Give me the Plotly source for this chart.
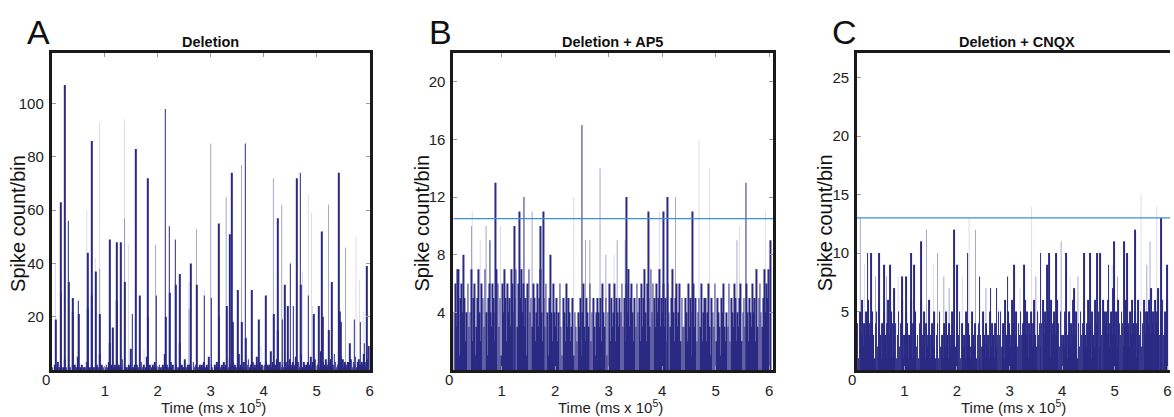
import numpy as np
import plotly.graph_objects as go

BIN = 0.02  # bin width, ms x 10^5

# ---------------- Panel A: Deletion ----------------
a_base = [
    1,0,2,1,1,3,0,1,2,1,0,1,4,1,0,2,1,1,0,2,
    1,2,0,1,5,1,0,1,2,0,1,1,3,1,2,1,0,2,1,1,
    0,1,2,1,0,6,1,2,1,0,1,2,1,3,1,0,2,1,1,2,
    1,0,1,2,1,1,4,0,2,1,1,0,2,1,8,1,0,1,2,1,
    2,1,0,1,3,1,2,0,1,5,1,1,2,0,1,2,1,3,1,0,
    1,2,1,0,2,1,6,1,2,1,0,1,3,1,2,0,1,2,1,1,
    0,1,2,1,1,4,1,0,2,1,2,1,0,3,1,2,1,1,0,2,
    1,2,1,3,0,1,2,1,5,1,2,1,0,2,1,3,1,2,1,0,
    2,1,3,1,2,0,1,4,2,1,3,1,2,1,0,2,6,1,2,1,
    1,3,2,1,2,4,1,2,0,3,1,2,1,5,2,1,3,1,2,1,
    2,1,3,2,1,2,7,1,3,2,1,2,4,1,2,3,1,2,1,3,
    3,1,2,1,4,2,1,3,2,1,5,2,3,1,2,6,1,3,2,1,
    2,3,1,2,5,1,3,2,4,1,2,3,1,7,2,3,1,2,4,2,
    1,3,2,4,1,2,6,3,1,2,3,1,5,2,4,1,3,2,1,3,
    3,2,4,1,3,2,5,1,3,4,2,1,3,2,6,3,1,2,4,9,
]
a_peak_t = [0.075,0.175,0.18,0.25,0.31,0.32,0.39,0.40,0.50,0.505,0.675,0.68,0.75,0.755,0.825,
            0.90,1.09,1.10,1.15,1.225,1.23,1.30,1.38,1.52,1.58,1.66,1.81,1.82,1.97,2.14,2.15,
            2.22,2.23,2.33,2.34,2.41,2.42,2.62,2.74,2.88,3.01,3.15,3.16,3.30,3.36,3.40,3.41,
            3.51,3.59,3.65,3.66,3.78,3.91,4.04,4.19,4.26,4.27,4.35,4.40,4.45,4.50,4.56,4.63,
            4.69,4.70,4.84,4.94,5.04,5.10,5.11,5.23,5.29,5.42,5.43,5.46,5.63,5.71,5.82,5.90,5.94]
a_peak_n = [19,63,29,107,56,33,27,22,26,21,44,23,86,28,37,
            21,49,10,16,48,26,48,33,21,83,28,72,20,28,98,20,
            54,29,49,32,36,10,40,32,28,27,55,20,24,51,74,18,
            30,18,85,12,30,19,28,21,57,15,19,32,24,40,24,72,
            74,32,28,21,24,52,20,15,33,74,22,18,10,19,18,10,39]
a_mid_t = [0.905,1.375,1.96,2.73,3.00,3.29,3.58,4.18,4.34,5.22,5.54,2.59]
a_mid_n = [38,57,47,53,85,65,77,72,62,62,46,23]
a_faint_t = [0.07,0.66,0.82,0.90,1.37,1.45,1.74,2.585,2.875,4.73,4.84,4.90,5.74,5.81,5.89,4.92,3.95]
a_faint_n = [40,60,42,93,94,47,8,33,30,37,66,59,50,34,22,24,9]

# ---------------- Panel B: Deletion + AP5 ----------------
b_base = [
    5,3,6,2,5,4,6,3,4,7,1,5,6,4,3,5,2,4,6,3,
    4,7,2,5,6,1,3,5,7,4,2,6,5,3,7,4,1,5,6,4,
    3,6,5,2,4,7,6,3,5,1,6,4,7,5,2,6,4,5,3,7,
    6,4,5,7,3,6,2,5,7,4,6,3,5,1,6,7,4,5,3,6,
    5,2,4,6,3,5,7,4,2,5,3,6,4,1,5,3,4,2,6,4,
    3,5,2,4,6,3,1,5,4,2,6,3,5,4,2,3,5,1,4,3,
    2,4,3,5,1,4,6,3,2,5,4,3,6,2,4,5,3,1,4,5,
    4,3,5,2,6,4,3,5,1,4,6,2,5,3,4,6,2,5,4,3,
    5,4,6,3,5,2,6,4,7,3,5,6,4,2,5,3,6,4,5,2,
    6,3,5,7,4,2,6,5,3,7,4,6,5,3,6,4,5,7,3,5,
    4,6,3,5,2,6,4,3,5,7,4,2,5,6,3,4,6,2,5,3,
    3,5,4,2,6,3,5,1,4,6,3,5,2,4,5,3,6,2,4,5,
    5,2,4,6,3,1,5,4,3,6,2,5,4,3,1,5,4,6,3,2,
    4,3,6,2,5,4,3,6,5,2,4,3,5,6,2,4,5,3,6,4,
    2,5,4,3,6,4,5,2,7,3,5,6,4,3,5,7,4,6,5,7,
]
b_peak_t = [0.88,1.33,1.42,1.78,1.91,2.50,3.33,3.74,4.02,4.10,4.57,5.57,6.03,0.78,1.72,1.24,0.29,0.17]
b_peak_n = [13,11,12,11,8,17,12,11,11,12,11,13,9,9,10,10,8,7]
b_mid_t = [0.44,2.84,4.25,1.57,0.71,2.57,2.65,3.16,3.31,2.95,5.40]
b_mid_n = [10,14,12,11,10,9,9,9,9,8,9]
b_faint_t = [0.45,0.98,2.35,3.95,4.69,4.89,5.93,5.45,3.10,0.60]
b_faint_n = [11,10,12,11,16,14,11,10,8,9]

# ---------------- Panel C: Deletion + CNQX ----------------
c_base = [
    4,3,5,2,7,4,1,5,3,6,2,4,3,5,1,6,3,4,2,5,
    3,1,4,5,2,6,3,1,4,2,5,3,1,4,6,2,3,5,1,4,
    2,4,1,3,5,2,4,6,1,3,2,5,4,1,3,2,6,1,4,3,
    5,2,3,1,4,6,2,3,5,1,4,2,3,6,1,3,4,2,5,1,
    3,4,1,5,2,3,1,4,2,5,3,1,4,2,3,5,1,3,2,4,
    2,3,5,1,4,2,3,1,5,2,4,3,1,2,5,3,2,4,1,3,
    4,1,3,2,5,3,1,4,2,3,1,5,2,4,3,1,4,2,3,5,
    3,5,2,4,1,6,3,2,5,4,2,3,6,1,4,3,5,2,4,3,
    5,3,4,2,6,3,5,1,4,3,5,2,4,6,3,2,5,3,4,2,
    4,6,3,5,2,4,3,5,1,6,3,4,5,2,3,6,4,2,5,3,
    3,2,5,4,1,3,5,2,4,3,6,2,3,5,1,4,2,5,3,4,
    5,3,2,4,6,3,4,1,5,3,2,6,4,3,5,2,4,3,6,5,
    4,5,3,6,2,4,5,3,7,4,3,5,2,6,4,3,5,4,2,6,
    3,6,4,2,5,3,6,4,3,5,1,4,6,3,5,2,4,6,3,5,
    5,4,6,3,7,4,5,3,6,4,5,7,3,5,4,6,3,5,4,6,
]
c_peak_t = [0.30,0.37,0.52,0.61,0.73,0.81,0.95,1.03,1.13,1.19,1.32,1.95,2.00,2.20,2.43,
            3.59,3.71,3.75,3.88,4.08,4.42,4.53,4.66,4.72,4.88,4.99,5.18,5.24,5.39,5.88,
            6.00,2.64,2.75,2.96,3.08,3.28,4.22]
c_peak_n = [10,10,10,9,9,7,8,8,10,9,11,12,9,10,8,
            10,9,10,10,10,10,10,10,10,9,11,11,10,12,13,
            9,7,7,8,9,9,7]
c_mid_t = [1.42,0.16,1.63,1.75,2.35,3.98,5.61,5.67,0.45,0.66,1.85,2.55,3.50,4.30,5.05]
c_mid_n = [12,13,10,8,12,11,9,11,8,8,7,7,8,8,8]
c_faint_t = [2.23,3.42,5.50,5.80,0.24,1.55,0.88,2.10,3.20,4.15,4.95]
c_faint_n = [13,14,15,14,9,9,8,8,7,8,9]

AP5_THRESHOLD = 10.5
CNQX_THRESHOLD = 13.0

# ---------------- figure ----------------
W, H = 1174, 417
NAVY = "rgb(42,42,132)"
MID = "rgba(42,42,132,0.55)"
FAINT = "rgba(42,42,132,0.22)"
FONT = "Liberation Sans, Arial, sans-serif"

fig = go.Figure()

panels = [
    dict(base=a_base, pt=a_peak_t, pn=a_peak_n, mt=a_mid_t, mn=a_mid_n, ft=a_faint_t, fn=a_faint_n,
         xa="x", ya="y", thr=None),
    dict(base=b_base, pt=b_peak_t, pn=b_peak_n, mt=b_mid_t, mn=b_mid_n, ft=b_faint_t, fn=b_faint_n,
         xa="x2", ya="y2", thr=AP5_THRESHOLD),
    dict(base=c_base, pt=c_peak_t, pn=c_peak_n, mt=c_mid_t, mn=c_mid_n, ft=c_faint_t, fn=c_faint_n,
         xa="x3", ya="y3", thr=CNQX_THRESHOLD),
]

for p in panels:
    n = len(p["base"])
    centers = (np.arange(n) + 0.5) * BIN
    fig.add_trace(go.Bar(x=centers, y=p["base"], width=BIN * 0.75, marker=dict(color=NAVY, line_width=0),
                         xaxis=p["xa"], yaxis=p["ya"], showlegend=False))
    fig.add_trace(go.Bar(x=p["ft"], y=p["fn"], width=BIN * 0.7, marker=dict(color=FAINT, line_width=0),
                         xaxis=p["xa"], yaxis=p["ya"], showlegend=False))
    fig.add_trace(go.Bar(x=p["mt"], y=p["mn"], width=BIN * 0.7, marker=dict(color=MID, line_width=0),
                         xaxis=p["xa"], yaxis=p["ya"], showlegend=False))
    fig.add_trace(go.Bar(x=p["pt"], y=p["pn"], width=BIN * 0.7, marker=dict(color=NAVY, line_width=0),
                         xaxis=p["xa"], yaxis=p["ya"], showlegend=False))
    if p["thr"] is not None:
        fig.add_trace(go.Scatter(x=[0, 6.2], y=[p["thr"], p["thr"]], mode="lines",
                                 line=dict(color="#3d8fd6", width=1.2),
                                 xaxis=p["xa"], yaxis=p["ya"], showlegend=False, cliponaxis=True))

def px_x(v):
    return v / W

def px_y(v):
    return 1 - v / H

y_dom = [px_y(370), px_y(53)]
x_doms = [[px_x(52), px_x(371)], [px_x(455), px_x(776)], [px_x(860), 1.0]]
x_ranges = [[0, 6], [0.1, 6.08], [0.1, 6.05]]
y_ranges = [[0, 119], [0, 22], [0, 27.1]]
y_ticks = [[20, 40, 60, 80, 100], [4, 8, 12, 16, 20], [5, 10, 15, 20, 25]]

axis_common = dict(showgrid=False, zeroline=False, ticks="inside", ticklen=4, tickcolor="#999",
                   tickwidth=1, linecolor="#1a1a1a", linewidth=3, showline=True,
                   tickfont=dict(family=FONT, size=15, color="#222"))

layout = dict(width=W, height=H, margin=dict(l=0, r=0, t=0, b=0), plot_bgcolor="white",
              paper_bgcolor="white", barmode="overlay", bargap=0.01)

for i in range(3):
    sx = "" if i == 0 else str(i + 1)
    layout["xaxis" + sx] = dict(axis_common, domain=x_doms[i], range=x_ranges[i], anchor="y" + sx,
                                tickvals=[1, 2, 3, 4, 5, 6], mirror="allticks" if i < 2 else True,
                                ticklabelstandoff=5)
    layout["yaxis" + sx] = dict(axis_common, domain=y_dom, range=y_ranges[i], anchor="x" + sx,
                                tickvals=y_ticks[i], mirror="allticks" if i < 2 else False,
                                ticklabelstandoff=2)

fig.update_layout(**layout)

titles = ["Deletion", "Deletion + AP5", "Deletion + CNQX"]
title_x = [211, 615, 1020]
letters = ["A", "B", "C"]
letter_x = [39, 442, 847]
ylab_x = [18, 423, 828]
xlab_x = [214, 613, 1017]
zero_x = [46, 451, 855]

ann = []
for i in range(3):
    ann.append(dict(text="<b>" + titles[i] + "</b>", x=px_x(title_x[i]), y=px_y(42), xref="paper", yref="paper",
                    showarrow=False, font=dict(family=FONT, size=14.5, color="#111"),
                    xanchor="center", yanchor="middle"))
    ann.append(dict(text=letters[i], x=px_x(letter_x[i]), y=px_y(32), xref="paper", yref="paper",
                    showarrow=False, font=dict(family=FONT, size=34, color="#111"),
                    xanchor="center", yanchor="middle"))
    ann.append(dict(text="Spike count/bin", x=px_x(ylab_x[i]), y=px_y(223), xref="paper", yref="paper",
                    showarrow=False, textangle=-90, font=dict(family=FONT, size=20, color="#111"),
                    xanchor="center", yanchor="middle"))
    ann.append(dict(text="Time (ms x 10<sup>5</sup>)", x=px_x(xlab_x[i]), y=px_y(406), xref="paper",
                    yref="paper", showarrow=False, font=dict(family=FONT, size=15, color="#222"),
                    xanchor="center", yanchor="middle"))
    ann.append(dict(text="0", x=px_x(zero_x[i]), y=px_y(379), xref="paper", yref="paper",
                    showarrow=False, font=dict(family=FONT, size=15, color="#222"),
                    xanchor="center", yanchor="middle"))
fig.update_layout(annotations=ann)

fig.write_html("out.html", config={"displayModeBar": False},
               post_script="document.body.style.margin='0';document.body.style.overflow='hidden';")
